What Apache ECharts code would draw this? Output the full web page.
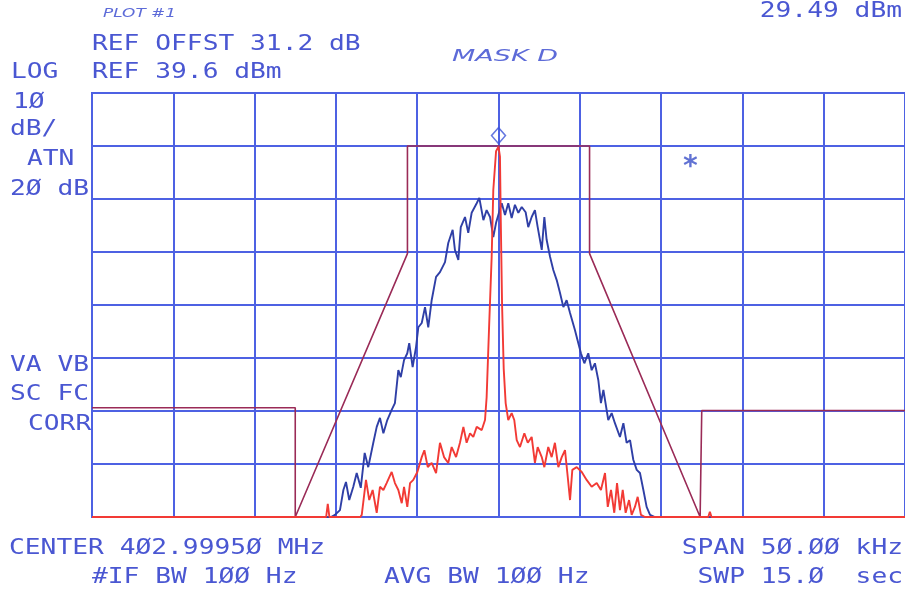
<!DOCTYPE html>
<html>
<head>
<meta charset="utf-8">
<script src="https://cdn.jsdelivr.net/npm/echarts@6.0.0/dist/echarts.min.js"></script>
<style>
  html, body { margin: 0; padding: 0; background: #fff; }
  #chart { width: 905px; height: 592px; }
</style>
</head>
<body>
<div id="chart"></div>
<script>
// x: offset from center frequency in kHz (span 50 kHz), y: dB relative to REF 39.6 dBm (10 dB/div)
const peakLevel = -10.11; // marker 29.49 dBm
const markerStar = [[11.8, -12.8]];

const maskLine = [
  [-25, -59.4], [-12.5, -59.4], [-12.5, -80], [-5.6, -30.3], [-5.6, -10],
  [5.6, -10], [5.6, -30.3], [12.4, -80], [12.5, -59.9], [25, -59.9]
];

// wide trace (blue)
const blueTrace = [
  [-25, -80], [-10.3, -80], [-10.06, -79.6], [-9.75, -78.7], [-9.54, -74.9], [-9.38, -73.4],
  [-9.18, -76.8], [-8.93, -74.3], [-8.72, -71.7], [-8.47, -74.5], [-8.23, -67.9], [-8.01, -70.6],
  [-7.70, -66.0], [-7.49, -63.0], [-7.29, -61.3], [-7.08, -64.2], [-6.84, -61.7], [-6.57, -59.8],
  [-6.37, -58.5], [-6.16, -52.3], [-6.01, -53.6], [-5.81, -50.4], [-5.61, -49.1], [-5.49, -47.2],
  [-5.28, -51.7], [-5.07, -47.9], [-4.93, -44.2], [-4.72, -43.4], [-4.52, -40.4], [-4.32, -44.2],
  [-4.11, -39.1], [-3.84, -34.7], [-3.60, -33.8], [-3.29, -31.9], [-3.09, -28.3], [-2.82, -25.8],
  [-2.68, -29.6], [-2.47, -31.5], [-2.32, -25.3], [-2.06, -23.4], [-1.86, -26.4], [-1.65, -22.6],
  [-1.34, -20.8], [-1.18, -19.8], [-0.93, -24.0], [-0.73, -22.1], [-0.52, -23.4], [-0.32, -27.2],
  [-0.15, -24.5], [0.20, -20.8], [0.40, -23.0], [0.60, -20.8], [0.81, -23.6], [1.01, -21.1],
  [1.22, -22.6], [1.43, -21.5], [1.67, -22.5], [1.83, -25.3], [2.04, -23.4], [2.24, -22.1],
  [2.41, -25.3], [2.66, -29.6], [2.82, -23.4], [2.96, -27.7], [3.17, -30.9], [3.37, -33.4],
  [3.58, -35.3], [3.78, -37.7], [3.99, -40.4], [4.19, -39.1], [4.40, -41.5], [4.70, -44.7],
  [4.91, -47.2], [5.07, -49.1], [5.28, -51.0], [5.52, -49.1], [5.73, -52.3], [5.93, -51.0],
  [6.14, -54.2], [6.30, -58.5], [6.45, -56.0], [6.75, -61.7], [6.96, -60.4], [7.16, -62.3],
  [7.47, -64.9], [7.68, -62.3], [7.88, -66.0], [8.09, -65.5], [8.29, -69.2], [8.50, -71.1],
  [8.70, -71.7], [8.91, -74.9], [9.11, -78.1], [9.32, -79.6], [9.62, -80], [25, -80]
];

// carrier trace (red)
const redTrace = [
  [-25, -80], [-10.6, -80], [-10.5, -77.5], [-10.4, -80], [-8.5, -80], [-8.41, -79.6],
  [-8.15, -73.0], [-7.95, -76.8], [-7.74, -74.9], [-7.49, -79.2], [-7.29, -74.3], [-7.08, -74.9],
  [-6.88, -73.6], [-6.57, -71.5], [-6.37, -73.6], [-6.16, -74.9], [-5.95, -77.4], [-5.81, -74.3],
  [-5.61, -78.1], [-5.44, -73.6], [-5.24, -73.0], [-4.99, -71.5], [-4.72, -68.7], [-4.56, -67.4],
  [-4.35, -70.6], [-4.11, -69.8], [-3.84, -71.7], [-3.60, -66.0], [-3.35, -68.7], [-3.09, -69.8],
  [-2.88, -66.8], [-2.61, -68.7], [-2.37, -66.0], [-2.16, -63.0], [-1.96, -66.0], [-1.75, -64.2],
  [-1.55, -64.9], [-1.34, -63.0], [-1.03, -63.6], [-0.83, -61.7], [-0.73, -57.4], [-0.57, -43.4],
  [-0.42, -30.9], [-0.32, -18.3], [-0.15, -11.0], [0, -10.11], [0.09, -12.0], [0.14, -24.0],
  [0.22, -40.0], [0.32, -52.0], [0.44, -58.5], [0.60, -61.7], [0.81, -60.4], [0.97, -61.7],
  [1.12, -65.5], [1.32, -66.8], [1.59, -64.2], [1.80, -66.0], [2.04, -64.9], [2.24, -69.8],
  [2.41, -66.8], [2.66, -68.7], [2.82, -70.6], [3.06, -66.8], [3.27, -68.7], [3.47, -66.0],
  [3.68, -70.6], [3.89, -68.7], [4.09, -67.4], [4.26, -72.5], [4.40, -76.8], [4.54, -71.1],
  [4.81, -70.6], [5.12, -71.5], [5.42, -73.0], [5.73, -74.3], [6.04, -73.6], [6.30, -74.9],
  [6.55, -71.7], [6.72, -78.1], [6.92, -74.9], [7.12, -79.2], [7.29, -73.6], [7.47, -78.7],
  [7.64, -74.9], [7.82, -79.2], [8.03, -76.8], [8.19, -79.6], [8.39, -78.1], [8.56, -76.2],
  [8.76, -79.6], [9.01, -80], [12.9, -80], [13.0, -79], [13.1, -80], [25, -80]
];

const gridBlue = '#4d61e3';
const textBlue = '#4a57d2';
const penBlue = '#5d6bd8';

// plotter-style annotation text
function plotText(text, x, y, align) {
  return {
    type: 'text', x: x, y: y, scaleX: 1.25, z: 10, silent: true,
    style: {
      text: text, fill: textBlue, font: '21px "DejaVu Sans Mono"',
      textAlign: align || 'left', textVerticalAlign: 'middle',
      align: align || 'left', verticalAlign: 'middle'
    }
  };
}
function penText(text, x, y, sx, size) {
  return {
    type: 'text', x: x, y: y, scaleX: sx, z: 10, silent: true,
    style: {
      text: text, fill: penBlue, font: 'italic ' + size + 'px "DejaVu Sans"',
      textAlign: 'left', textVerticalAlign: 'middle', align: 'left', verticalAlign: 'middle'
    }
  };
}

const chart = echarts.init(document.getElementById('chart'));
chart.setOption({
  animation: false,
  backgroundColor: '#ffffff',
  grid: {
    left: 92, right: 0, top: 93, bottom: 75,
    show: true, borderColor: gridBlue, borderWidth: 2
  },
  xAxis: {
    type: 'value', min: -25, max: 25, interval: 5,
    axisLine: {show: false}, axisTick: {show: false}, axisLabel: {show: false},
    splitLine: {show: true, lineStyle: {color: gridBlue, width: 2}}
  },
  yAxis: {
    type: 'value', min: -80, max: 0, interval: 10,
    axisLine: {show: false}, axisTick: {show: false}, axisLabel: {show: false},
    splitLine: {show: true, lineStyle: {color: gridBlue, width: 2}}
  },
  series: [
    {
      name: 'mask', type: 'line', data: maskLine, showSymbol: false, z: 3,
      lineStyle: {color: '#9a2b57', width: 1.6}
    },
    {
      name: 'spectrum', type: 'line', data: blueTrace, showSymbol: false, z: 4,
      lineStyle: {color: '#2f3fa6', width: 1.9}
    },
    {
      name: 'carrier', type: 'line', data: redTrace, showSymbol: false, z: 5,
      lineStyle: {color: '#f23a35', width: 1.9}
    },
    {
      name: 'marker', type: 'scatter', data: [[0, peakLevel]], z: 6,
      symbol: 'diamond', symbolSize: [14, 16], symbolOffset: [0, -11],
      itemStyle: {color: 'rgba(255,255,255,0)', borderColor: '#3f55d8', borderWidth: 1.5}
    },
    {
      name: 'star', type: 'scatter', data: markerStar, z: 6, symbolSize: 0,
      label: {
        show: true, position: 'inside', formatter: '*', offset: [0, 7],
        color: '#3a4fc8', fontSize: 28, fontWeight: 'bold', fontFamily: 'DejaVu Sans Mono'
      }
    }
  ],
  graphic: [
    penText('PLOT #1', 103, 14, 1.3, 13),
    penText('MASK D', 452, 57, 1.8, 15),
    plotText('29.49 dBm', 902, 12, 'right'),
    plotText('REF OFFST 31.2 dB', 92, 45),
    plotText('LOG', 11, 73),
    plotText('REF 39.6 dBm', 92, 73),
    plotText('1Ø', 13, 103),
    plotText('dB/', 10, 130),
    plotText('ATN', 27, 160),
    plotText('2Ø dB', 10, 190),
    plotText('VA VB', 10, 366),
    plotText('SC FC', 10, 395),
    plotText('CORR', 28, 425),
    plotText('CENTER 4Ø2.9995Ø MHz', 9, 549),
    plotText('SPAN 5Ø.ØØ kHz', 903, 549, 'right'),
    plotText('#IF BW 1ØØ Hz', 92, 578),
    plotText('AVG BW 1ØØ Hz', 384, 578),
    plotText('SWP 15.Ø  sec', 903, 578, 'right')
  ]
});
</script>
</body>
</html>
